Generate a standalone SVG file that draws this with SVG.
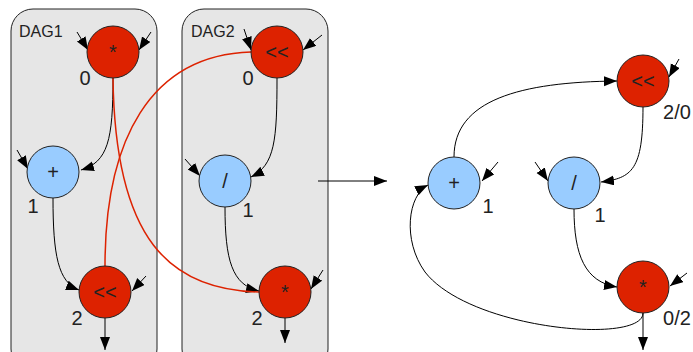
<svg xmlns="http://www.w3.org/2000/svg" width="693" height="352" viewBox="0 0 693 352">
  <style>
    .box { fill: #e6e6e6; stroke: #222; stroke-width: 1; }
    .red { fill: #dd2200; stroke: #222; stroke-width: 1; }
    .blue { fill: #99ccff; stroke: #222; stroke-width: 1; }
    .op { font-family: "Liberation Sans", Arial, sans-serif; font-size: 20px; fill: #222; text-anchor: middle; dominant-baseline: central; }
    .num { font-family: "Liberation Sans", Arial, sans-serif; font-size: 20px; fill: #222; text-anchor: middle; }
    .title { font-family: "Liberation Sans", Arial, sans-serif; font-size: 16px; fill: #222; }
    .edge { fill: none; stroke: #000; stroke-width: 1; marker-end: url(#arrow); }
    .redge { fill: none; stroke: #dd2200; stroke-width: 1.5; }
  </style>
  <defs>
    <marker id="arrow" markerUnits="userSpaceOnUse" markerWidth="14" markerHeight="11" refX="13" refY="5" orient="auto">
      <path d="M0,0 L13,5 L0,10 z" fill="#000"/>
    </marker>
  </defs>

  <rect fill="#fff" width="693" height="352"/>

  <!-- clusters -->
  <g id="dag1">
    <rect class="box" x="11" y="9" width="146" height="362" rx="22"/>
    <text class="title" x="19" y="37">DAG1</text>
  </g>
  <g id="dag2">
    <rect class="box" x="182" y="9" width="146" height="362" rx="22"/>
    <text class="title" x="191" y="37">DAG2</text>
  </g>

  <!-- connectors -->
  <g id="connectors">
    <!-- DAG1 -->
    <path class="edge" d="M113,78 C113,140 108,162 81,170"/>
    <path class="edge" d="M53,198 C53,255 58,282 79,290"/>
    <line class="edge" x1="77" y1="32" x2="88" y2="50"/>
    <line class="edge" x1="151" y1="32" x2="139" y2="50"/>
    <line class="edge" x1="17" y1="150" x2="28" y2="169"/>
    <line class="edge" x1="146" y1="276" x2="132" y2="291"/>
    <line class="edge" x1="105" y1="318" x2="105" y2="350"/>
    <!-- DAG2 -->
    <path class="edge" d="M277,78 C277,140 275,165 251,177"/>
    <path class="edge" d="M225,207 C225,260 232,285 259,291"/>
    <line class="edge" x1="244" y1="29" x2="251" y2="50"/>
    <line class="edge" x1="322" y1="35" x2="303" y2="50"/>
    <line class="edge" x1="185" y1="159" x2="200" y2="176"/>
    <line class="edge" x1="323" y1="270" x2="311" y2="289"/>
    <line class="edge" x1="285" y1="318" x2="285" y2="343"/>
    <!-- cross-cluster links -->
    <path class="redge" d="M113,78 C115,240 170,290 259,292"/>
    <path class="redge" d="M251,52 C150,55 105,140 105,266"/>
    <!-- transform arrow -->
    <line class="edge" x1="318" y1="181" x2="387" y2="181"/>
    <!-- merged graph -->
    <path class="edge" d="M454,157 C454,100 520,82 617,81"/>
    <path class="edge" d="M643,107 C643,170 632,178 601,182"/>
    <path class="edge" d="M574,209 C574,255 585,282 617,287"/>
    <path class="edge" d="M643,313 C643,345 470,330 425,272 C402,240 408,195 428,185"/>
    <line class="edge" x1="679" y1="59" x2="669" y2="77"/>
    <line class="edge" x1="498" y1="162" x2="482" y2="181"/>
    <line class="edge" x1="535" y1="162" x2="548" y2="181"/>
    <line class="edge" x1="687" y1="273" x2="670" y2="286"/>
    <line class="edge" x1="643" y1="313" x2="643" y2="350"/>
  </g>

  <!-- DAG1 nodes -->
  <g id="d1-mul">
    <circle class="red" cx="113" cy="52" r="26"/>
    <text class="op" x="113" y="52">*</text>
    <text class="num" x="85" y="85">0</text>
  </g>
  <g id="d1-add">
    <circle class="blue" cx="53" cy="172" r="26"/>
    <text class="op" x="53" y="172">+</text>
    <text class="num" x="33" y="213">1</text>
  </g>
  <g id="d1-shl">
    <circle class="red" cx="105" cy="292" r="26"/>
    <text class="op" x="105" y="292">&lt;&lt;</text>
    <text class="num" x="77" y="325">2</text>
  </g>

  <!-- DAG2 nodes -->
  <g id="d2-shl">
    <circle class="red" cx="277" cy="52" r="26"/>
    <text class="op" x="277" y="52">&lt;&lt;</text>
    <text class="num" x="248" y="85">0</text>
  </g>
  <g id="d2-div">
    <circle class="blue" cx="225" cy="181" r="26"/>
    <text class="op" x="225" y="181">/</text>
    <text class="num" x="248" y="217">1</text>
  </g>
  <g id="d2-mul">
    <circle class="red" cx="285" cy="292" r="26"/>
    <text class="op" x="285" y="292">*</text>
    <text class="num" x="257" y="325">2</text>
  </g>

  <!-- merged nodes -->
  <g id="m-shl">
    <circle class="red" cx="643" cy="81" r="26"/>
    <text class="op" x="643" y="81">&lt;&lt;</text>
    <text class="num" x="677" y="119">2/0</text>
  </g>
  <g id="m-add">
    <circle class="blue" cx="454" cy="183" r="26"/>
    <text class="op" x="454" y="183">+</text>
    <text class="num" x="488" y="213">1</text>
  </g>
  <g id="m-div">
    <circle class="blue" cx="574" cy="183" r="26"/>
    <text class="op" x="574" y="183">/</text>
    <text class="num" x="600" y="222">1</text>
  </g>
  <g id="m-mul">
    <circle class="red" cx="643" cy="287" r="26"/>
    <text class="op" x="643" y="287">*</text>
    <text class="num" x="677" y="325">0/2</text>
  </g>
</svg>
